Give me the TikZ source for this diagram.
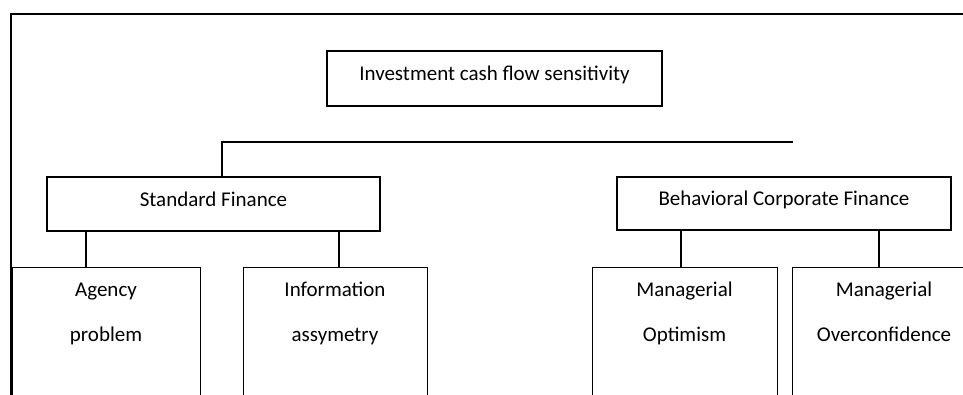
\documentclass[tikz,border=0pt]{standalone}
\usepackage{fontspec}
\setmainfont{Carlito}
\begin{document}
\begin{tikzpicture}[x=1pt,y=-1pt,
  line width=1.3pt,
  box/.style={draw=black, line width=1.3pt, inner sep=0pt, font=\fontsize{21}{25}\selectfont, text height=14pt, text depth=9.5pt},
  tallbox/.style={draw=black, line width=1.3pt, inner sep=0pt, anchor=north west, minimum height=200pt},
  txt/.style={inner sep=0pt, align=center, font=\fontsize{21}{45}\selectfont}]
\useasboundingbox (0,0) rectangle (963,394);
\clip (0,0) rectangle (963,394);
% frame
\draw (11,420) -- (11,14) -- (970,14);
% boxes
\node[box, minimum width=335pt, minimum height=55pt] (top) at (494.5,78.5) {Investment cash flow sensitivity};
\node[box, minimum width=333pt, minimum height=54pt] (sf) at (213.5,204) {Standard Finance};
\node[box, minimum width=334pt, minimum height=53pt] (bcf) at (784,203.5) {Behavioral Corporate Finance};
\node[tallbox, minimum width=188pt] (ag) at (12,267) {};
\node[tallbox, minimum width=184pt] (ia) at (243,267) {};
\node[tallbox, minimum width=185pt] (mo) at (592,267) {};
\node[tallbox, minimum width=200pt] (mc) at (792,267) {};
% texts
\node[txt, anchor=base] (agt) at (106,341.5) {Agency\\problem};
\node[txt, anchor=base] (iat) at (335,341.5) {Information\\assymetry};
\node[txt, anchor=base] (mot) at (684.5,341.5) {Managerial\\Optimism};
\node[txt, anchor=base] (mct) at (884,341.5) {Managerial\\Overconfidence};
% connectors
\coordinate (hl) at (222,142);
\coordinate (hr) at (793,142);
\coordinate (c1) at (86,0);
\coordinate (c2) at (339,0);
\coordinate (c3) at (681,0);
\coordinate (c4) at (879,0);
\draw (hr) -- (hl) -- (hl |- sf.north);
\draw (sf.south -| c1) -- (ag.north -| c1);
\draw (sf.south -| c2) -- (ia.north -| c2);
\draw (bcf.south -| c3) -- (mo.north -| c3);
\draw (bcf.south -| c4) -- (mc.north -| c4);
\end{tikzpicture}
\end{document}
